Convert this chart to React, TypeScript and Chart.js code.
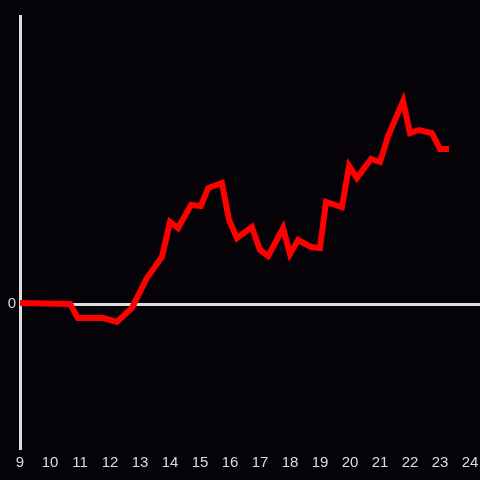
import React, { useEffect, useRef } from "react";
import { Chart, registerables } from "chart.js";

Chart.register(...registerables);

const hours = [9.0, 10.67, 10.93, 11.77, 12.23, 12.73, 13.23, 13.73, 14.0, 14.27, 14.7, 15.03, 15.27, 15.73, 15.97, 16.23, 16.73, 17.0, 17.27, 17.77, 18.0, 18.27, 18.7, 19.0, 19.2, 19.73, 19.97, 20.23, 20.7, 21.0, 21.27, 21.77, 22.0, 22.3, 22.73, 23.0, 23.3];
const values = [1, 0, -14, -14, -18, -4, 26, 47, 82, 76, 99, 98, 116, 121, 84, 66, 77, 54, 48, 76, 50, 64, 57, 56, 102, 97, 138, 126, 145, 142, 168, 203, 171, 174, 171, 155, 155];
const xTicks = [9, 10, 11, 12, 13, 14, 15, 16, 17, 18, 19, 20, 21, 22, 23, 24];
const yTicks = [0];

export default function App() {
  const ref = useRef<HTMLCanvasElement>(null);
  useEffect(() => {
    if (!ref.current) return;
    const font = { family: "'Liberation Sans', Arial, sans-serif", size: 15 };
    const chart = new Chart(ref.current, {
      type: "line",
      data: {
        datasets: [
          {
            data: hours.map((h, i) => ({ x: h, y: values[i] })),
            borderColor: "#ff0000",
            borderWidth: 6,
            pointRadius: 0,
            tension: 0,
            fill: false,
          },
        ],
      },
      options: {
        animation: false,
        responsive: false,
        maintainAspectRatio: false,
        layout: { padding: { top: 16, right: 0, left: 0, bottom: 0 } },
        plugins: { legend: { display: false }, tooltip: { enabled: false } },
        scales: {
          x: {
            type: "linear",
            min: 9,
            max: 24 + 1 / 3,
            afterBuildTicks: (s: any) => {
              s.ticks = xTicks.map((v) => ({ value: v }));
            },
            afterFit: (s: any) => {
              s.height = 32;
              s.paddingLeft = 0;
              s.paddingRight = 0;
            },
            grid: { display: false, drawTicks: false },
            border: { display: false },
            ticks: { color: "#dddddd", font, padding: 6, maxRotation: 0, autoSkip: false },
          },
          y: {
            min: -144,
            max: 288,
            afterBuildTicks: (s: any) => {
              s.ticks = yTicks.map((v) => ({ value: v }));
            },
            afterFit: (s: any) => {
              s.width = 20;
              s.paddingTop = 0;
              s.paddingBottom = 0;
            },
            grid: { color: "#dddddd", lineWidth: 3, drawTicks: false },
            border: { display: true, color: "#dddddd", width: 3 },
            ticks: { color: "#dddddd", font, padding: 4 },
          },
        },
      },
    });
    return () => chart.destroy();
  }, []);
  return (
    <div style={{ position: "fixed", left: 0, top: 0, width: 480, height: 480, background: "#050307" }}>
      <canvas ref={ref} width={480} height={480} style={{ display: "block", width: 480, height: 480 }} />
    </div>
  );
}
